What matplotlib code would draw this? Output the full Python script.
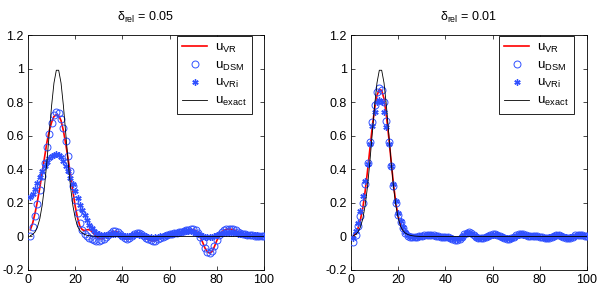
import matplotlib
matplotlib.use("Agg")
import matplotlib.pyplot as plt
from matplotlib.ticker import FormatStrFormatter
from matplotlib.lines import Line2D

plt.rcParams['font.family'] = ['Liberation Sans', 'DejaVu Sans']
plt.rcParams['mathtext.fontset'] = 'custom'
plt.rcParams['mathtext.rm'] = 'Liberation Sans'
plt.rcParams['mathtext.it'] = 'Liberation Sans:italic'
plt.rcParams['mathtext.default'] = 'regular'

x = list(range(1, 101))

u_exact = [0.005, 0.012, 0.027, 0.056, 0.105, 0.185, 0.298, 0.445, 0.613, 0.779,
           0.914, 0.990, 0.990, 0.914, 0.779, 0.613, 0.445, 0.298, 0.185, 0.110,
           0.060, 0.035, 0.020, 0.012, 0.007, 0.004, 0.002, 0.001] + [0.0] * 72

# left panel: delta_rel = 0.05
vr_05 = [0.04, 0.08, 0.14, 0.21, 0.29, 0.38, 0.47, 0.56, 0.63, 0.68,
         0.715, 0.725, 0.72, 0.69, 0.63, 0.55, 0.46, 0.37, 0.27, 0.18,
         0.11, 0.06, 0.04, 0.035, 0.04, 0.04, 0.03, 0.015, 0.0, -0.01,
         -0.015, -0.01, 0.0, 0.01, 0.02, 0.028, 0.03, 0.025, 0.01, -0.005,
         -0.015, -0.018, -0.01, 0.005, 0.015, 0.02, 0.018, 0.01, 0.0, -0.01,
         -0.02, -0.025, -0.027, -0.025, -0.018, -0.01, -0.003, 0.003, 0.008, 0.012,
         0.015, 0.018, 0.02, 0.023, 0.026, 0.03, 0.034, 0.038, 0.04, 0.04,
         0.035, 0.02, -0.005, -0.035, -0.07, -0.092, -0.1, -0.09, -0.06, -0.025,
         0.005, 0.025, 0.037, 0.042, 0.044, 0.043, 0.04, 0.034, 0.027, 0.02,
         0.015, 0.012, 0.01, 0.008, 0.007, 0.005, 0.004, 0.003, 0.001, 0.0]
dsm_05 = [0.0, 0.056, 0.12, 0.195, 0.275, 0.36, 0.44, 0.535, 0.61, 0.675,
          0.725, 0.742, 0.738, 0.70, 0.645, 0.57, 0.48, 0.39, 0.30, 0.22,
          0.14, 0.08, 0.04, 0.015, 0.0, -0.01, -0.018, -0.022, -0.025, -0.025,
          -0.022, -0.015, -0.005, 0.008, 0.02, 0.03, 0.032, 0.027, 0.015, 0.0,
          -0.01, -0.013, -0.008, 0.005, 0.015, 0.02, 0.02, 0.013, 0.003, -0.008,
          -0.018, -0.024, -0.027, -0.025, -0.018, -0.01, -0.003, 0.004, 0.009, 0.013,
          0.016, 0.019, 0.022, 0.025, 0.028, 0.032, 0.036, 0.04, 0.043, 0.043,
          0.037, 0.022, -0.003, -0.033, -0.068, -0.09, -0.098, -0.088, -0.058, -0.022,
          0.008, 0.028, 0.04, 0.045, 0.047, 0.046, 0.042, 0.036, 0.028, 0.021,
          0.016, 0.013, 0.011, 0.009, 0.007, 0.005, 0.004, 0.002, 0.001, 0.0]
vri_05 = [0.235, 0.255, 0.285, 0.32, 0.355, 0.39, 0.42, 0.445, 0.465, 0.478,
          0.487, 0.49, 0.485, 0.472, 0.45, 0.42, 0.39, 0.35, 0.31, 0.27,
          0.23, 0.19, 0.155, 0.125, 0.095, 0.07, 0.05, 0.035, 0.022, 0.015,
          0.01, 0.008, 0.008, 0.01, 0.013, 0.016, 0.017, 0.015, 0.01, 0.005,
          0.002, 0.002, 0.004, 0.008, 0.011, 0.012, 0.011, 0.008, 0.004, 0.0,
          -0.004, -0.006, -0.007, -0.005, -0.002, 0.002, 0.005, 0.008, 0.011, 0.014,
          0.017, 0.02, 0.023, 0.026, 0.028, 0.03, 0.031, 0.031, 0.03, 0.027,
          0.022, 0.015, 0.008, 0.002, -0.002, -0.004, -0.004, -0.002, 0.002, 0.007,
          0.012, 0.016, 0.019, 0.021, 0.022, 0.022, 0.021, 0.019, 0.017, 0.015,
          0.013, 0.011, 0.01, 0.009, 0.008, 0.007, 0.006, 0.005, 0.004, 0.003]

# right panel: delta_rel = 0.01
vr_01 = [0.0, 0.02, 0.05, 0.10, 0.17, 0.27, 0.39, 0.52, 0.65, 0.76,
         0.84, 0.875, 0.87, 0.82, 0.72, 0.59, 0.45, 0.31, 0.20, 0.12,
         0.07, 0.04, 0.02, 0.01, 0.003, -0.004, -0.003, -0.002, 0.0, 0.003,
         0.005, 0.008, 0.009, 0.008, 0.006, 0.003, 0.0, -0.002, -0.003, -0.004,
         -0.006, -0.009, -0.014, -0.018, -0.019, -0.014, -0.003, 0.011, 0.02, 0.023,
         0.018, 0.009, -0.001, -0.008, -0.011, -0.009, -0.004, 0.003, 0.008, 0.012,
         0.013, 0.01, 0.005, -0.003, -0.009, -0.013, -0.013, -0.008, -0.001, 0.006,
         0.012, 0.014, 0.012, 0.007, 0.004, 0.002, 0.002, 0.002, 0.001, -0.002,
         -0.006, -0.009, -0.01, -0.007, -0.002, 0.005, 0.009, 0.009, 0.005, -0.002,
         -0.007, -0.009, -0.006, -0.001, 0.005, 0.009, 0.009, 0.006, 0.003, 0.002]
dsm_01 = [-0.035, 0.01, 0.06, 0.12, 0.20, 0.31, 0.44, 0.56, 0.68, 0.78,
          0.86, 0.885, 0.875, 0.80, 0.69, 0.56, 0.42, 0.30, 0.20, 0.13,
          0.085, 0.05, 0.02, 0.005, -0.003, -0.005, -0.004, -0.002, 0.0, 0.003,
          0.006, 0.009, 0.01, 0.009, 0.006, 0.003, 0.0, -0.002, -0.003, -0.004,
          -0.006, -0.01, -0.015, -0.019, -0.02, -0.015, -0.003, 0.012, 0.022, 0.025,
          0.02, 0.01, -0.001, -0.009, -0.012, -0.01, -0.004, 0.003, 0.009, 0.013,
          0.014, 0.011, 0.005, -0.003, -0.01, -0.014, -0.014, -0.009, -0.001, 0.007,
          0.013, 0.015, 0.013, 0.008, 0.004, 0.002, 0.002, 0.002, 0.001, -0.002,
          -0.006, -0.01, -0.011, -0.008, -0.002, 0.005, 0.01, 0.01, 0.005, -0.002,
          -0.008, -0.01, -0.007, -0.001, 0.006, 0.01, 0.01, 0.007, 0.004, 0.002]
vri_01 = [-0.01, 0.03, 0.08, 0.15, 0.24, 0.33, 0.43, 0.55, 0.66, 0.74,
          0.80, 0.81, 0.80, 0.74, 0.65, 0.55, 0.42, 0.31, 0.21, 0.14,
          0.09, 0.055, 0.025, 0.01, 0.0, -0.004, -0.003, -0.001, 0.001, 0.003,
          0.005, 0.007, 0.008, 0.007, 0.005, 0.002, 0.0, -0.002, -0.003, -0.004,
          -0.005, -0.008, -0.012, -0.015, -0.016, -0.012, -0.002, 0.01, 0.018, 0.02,
          0.016, 0.008, -0.001, -0.007, -0.01, -0.008, -0.003, 0.003, 0.007, 0.01,
          0.011, 0.009, 0.004, -0.002, -0.008, -0.011, -0.011, -0.007, -0.001, 0.005,
          0.01, 0.012, 0.01, 0.006, 0.003, 0.002, 0.001, 0.001, 0.0, -0.002,
          -0.005, -0.008, -0.009, -0.006, -0.001, 0.004, 0.008, 0.008, 0.004, -0.002,
          -0.006, -0.008, -0.006, -0.001, 0.005, 0.008, 0.008, 0.006, 0.003, 0.002]

titles = [r'$\mathrm{\delta}_{\mathrm{rel}}$ = 0.05', r'$\mathrm{\delta}_{\mathrm{rel}}$ = 0.01']
labels = [r'u$_{\mathrm{VR}}$', r'u$_{\mathrm{DSM}}$', r'u$_{\mathrm{VRi}}$', r'u$_{\mathrm{exact}}$']
xticks = [0, 20, 40, 60, 80, 100]
yticks = [-0.2, 0, 0.2, 0.4, 0.6, 0.8, 1.0, 1.2]

panels = [(vr_05, dsm_05, vri_05, u_exact), (vr_01, dsm_01, vri_01, u_exact)]

fig = plt.figure(figsize=(6.01, 2.90), dpi=100)
positions = [[28/601, 20/290, 236/601, 235/290], [351/601, 20/290, 236/601, 235/290]]
leg_anchor = [(0.949, 0.996), (0.945, 0.996)]

blue = '#3050ff'
for i, (vr, dsm, vri, ex) in enumerate(panels):
    ax = fig.add_axes(positions[i])
    ax.plot(x, vr, color='red', lw=1.2, zorder=2)
    ax.plot(x, dsm, linestyle='none', marker='o', ms=5, mfc='none', mec=blue, mew=0.7, zorder=3)
    ax.plot(x, vri, linestyle='none', marker=(6, 2, 0), ms=4.5, color=blue, mec=blue, mew=1.0, zorder=4)
    ax.plot(x, ex, color='black', lw=0.6, zorder=5)
    ax.set_xlim(0, 100)
    ax.set_ylim(-0.2, 1.2)
    ax.set_xticks(xticks)
    ax.set_yticks(yticks)
    ax.yaxis.set_major_formatter(FormatStrFormatter('%g'))
    ax.tick_params(direction='in', top=True, right=True, length=3, width=0.5, labelsize=9, pad=3)
    for s in ax.spines.values():
        s.set_linewidth(0.6)
    ax.set_title(titles[i], fontsize=9, pad=10)
    handles = [Line2D([], [], color='red', lw=1.2),
               Line2D([], [], linestyle='none', marker='o', ms=5, mfc='none', mec=blue, mew=0.7),
               Line2D([], [], linestyle='none', marker=(6, 2, 0), ms=4.5, color=blue, mew=1.0),
               Line2D([], [], color='black', lw=0.6)]
    leg = ax.legend(handles, labels, loc='upper right', bbox_to_anchor=leg_anchor[i],
                    borderaxespad=0, fancybox=False, framealpha=1, edgecolor='black',
                    fontsize=9.5, handlelength=1.9, handletextpad=0.6, labelspacing=0.35,
                    borderpad=0.4)
    leg.get_frame().set_linewidth(0.6)

fig.savefig('out.png', dpi=100)
